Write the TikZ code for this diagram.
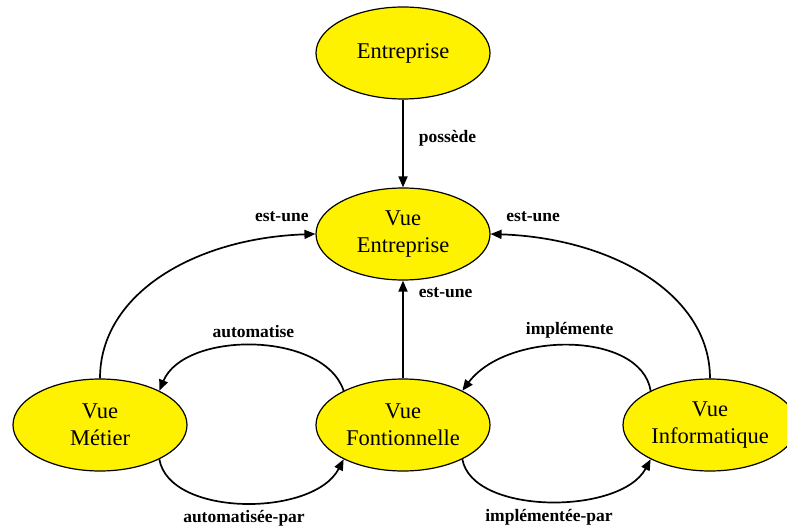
\documentclass[tikz,border=0pt]{standalone}
\usepackage{fontspec}
\setmainfont{Liberation Serif}
\usepackage{tikz}
\usetikzlibrary{shapes,arrows.meta,positioning,calc}

\tikzset{
  vue/.style={draw, ellipse, fill=yellow, line width=1.2pt, inner sep=0pt,
    minimum width=174pt, minimum height=92pt, align=center,
    font=\fontsize{22.5}{27}\selectfont},
  lien/.style={-{Triangle[length=11pt,width=9pt]}, line width=1.7pt},
  etiq/.style={font=\fontsize{17.5}{20}\selectfont\bfseries, inner sep=1pt}
}

\begin{document}
\begin{tikzpicture}[x=1pt,y=1pt]
\useasboundingbox (0,0) rectangle (787,528);

% Les vues
\node[vue] (ent) at (403,475) {Entreprise};
\node[vue] (vent) at (403,294) {Vue\\Entreprise};
\node[vue] (metier) at (100,103) {Vue\\Métier};
\node[vue] (fonct) at (403,103) {Vue\\Fontionnelle};
\node[vue] (info) at (710,103) {Vue\\Informatique};

% Relations verticales
\draw[lien] (ent) -- node[etiq, right=14pt, yshift=5pt] {possède} (vent);
\draw[lien] (fonct) -- node[etiq, pos=0.88, right=14pt] {est-une} (vent);

% est-une depuis les cotes
\draw[lien] (metier.north) .. controls +(0,85) and +(-120,-4) .. (vent.west)
  node[etiq, at end, anchor=south east, xshift=-5pt, yshift=10pt] {est-une};
\draw[lien] (info.north) .. controls +(0,85) and +(120,-4) .. (vent.east)
  node[etiq, at end, anchor=south west, xshift=14pt, yshift=10pt] {est-une};

% Metier <-> Fonctionnelle
\draw[lien] (fonct.150) .. controls +(-20,60) and +(25,60) .. (metier.30)
  node[etiq, midway, above=6pt] {automatise};
\draw[lien] (metier.-30) .. controls +(10,-58) and +(-30,-58) .. (fonct.-150)
  node[etiq, midway, below=6pt] {automatisée-par};

% Fonctionnelle <-> Informatique
\draw[lien] (info.150) .. controls +(-10,60) and +(45,60) .. (fonct.30)
  node[etiq, midway, above=6pt] {implémente};
\draw[lien] (fonct.-30) .. controls +(10,-56) and +(-30,-56) .. (info.-150)
  node[etiq, midway, below=6pt] {implémentée-par};
\end{tikzpicture}
\end{document}
